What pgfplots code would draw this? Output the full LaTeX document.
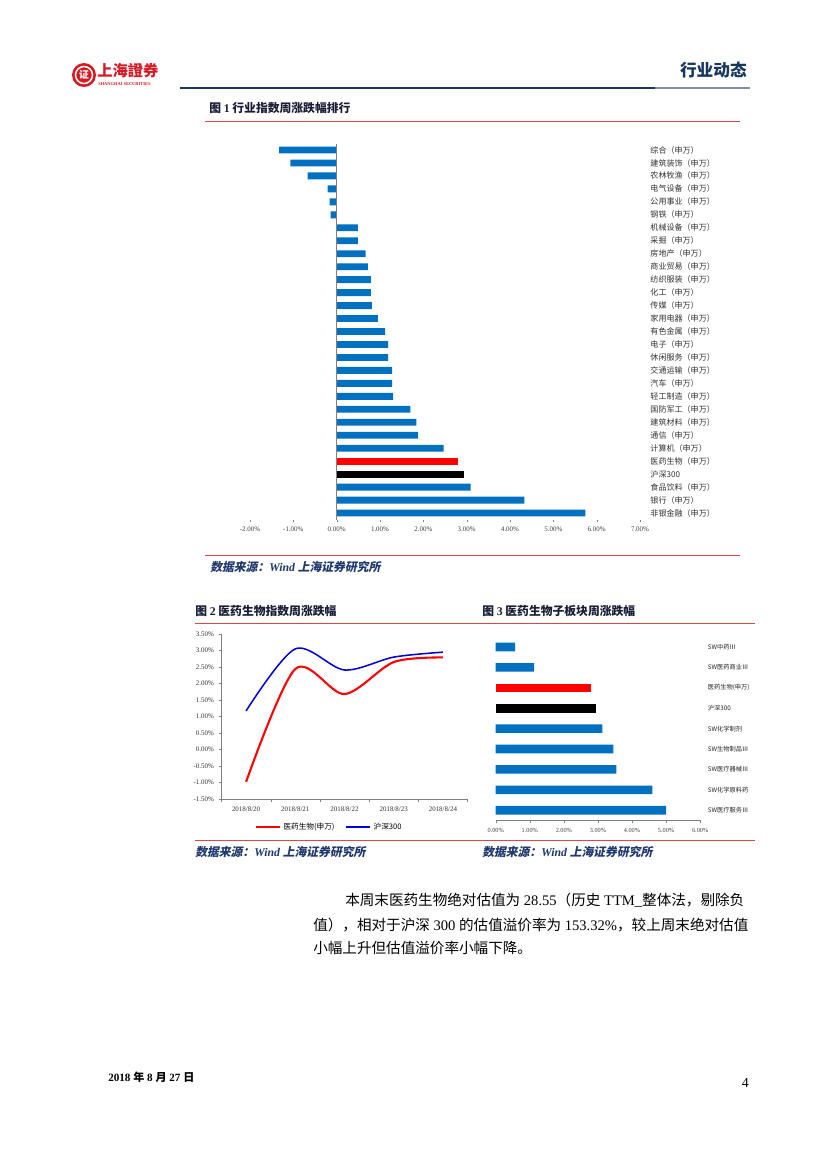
\documentclass[border=0pt]{standalone}
\usepackage{pgfplots}
\usepackage{pgfplotstable}
\pgfplotsset{compat=1.18}
\usepackage{fontspec}
\setmainfont{Liberation Serif}
\newfontfamily\cjk{Noto Sans CJK SC}
\newfontfamily\cjksl{Noto Sans CJK SC}[FakeSlant=0.2]
\definecolor{barblue}{RGB}{0,112,192}
\definecolor{navy}{RGB}{23,55,94}
\definecolor{srcblue}{RGB}{31,56,110}
\definecolor{rulered}{RGB}{225,70,70}
\definecolor{logored}{RGB}{215,25,35}
\definecolor{ttl}{RGB}{25,30,55}
\newcommand{\fs}[1]{\fontsize{#1}{#1}\selectfont}

% figure 1: weekly change by industry, row index from top
\pgfplotstableread{
y v
0 -1.33
1 -1.07
2 -0.67
3 -0.21
4 -0.16
5 -0.14
6 0.49
7 0.49
8 0.67
9 0.72
10 0.79
11 0.79
12 0.81
13 0.95
14 1.12
15 1.19
16 1.19
17 1.28
18 1.28
19 1.30
20 1.70
21 1.84
22 1.88
23 2.47
26 3.09
27 4.33
28 5.74
}\indtab

% figure 3: sub-sectors
\pgfplotstableread{
y v
0 0.57
1 1.13
4 3.13
5 3.45
6 3.54
7 4.60
8 5.00
}\subtab

\begin{document}
\begin{tikzpicture}
\useasboundingbox (0,0) rectangle (595.44pt,-841.68pt);
\fill[white] (0,0) rectangle (595.44pt,-841.68pt);

\begin{scope}[x=0.72pt,y=-0.72pt]
% header
\fill[logored] (84,75) circle (12);
\draw[white, line width=1.1pt] (84,75) circle (8.5);
\node[text=white, inner sep=0] at (84,75) {\cjk\bfseries\fs{7}证};
\node[anchor=west, text=logored, inner sep=0] at (97,71) {\cjk\bfseries\fs{11}上海證券};
\node[anchor=west, text=logored, inner sep=0] at (98,84) {\bfseries\fs{3.2}SHANGHAI SECURITIES};
\node[anchor=east, text=navy, inner sep=0] at (747,70) {\cjk\bfseries\fs{12}行业动态};
\draw[navy, line width=1.9pt] (180,88) -- (655,88);
\draw[navy!55, line width=1.9pt] (655,88) -- (750,88);

% figure 1 frame
\node[anchor=west, text=ttl, inner sep=0] at (209,108) {\cjk\bfseries\fs{8.5}图 {\rmfamily 1} 行业指数周涨跌幅排行};
\draw[rulered, line width=0.5pt] (205,121) -- (740,121);
\draw[rulered, line width=0.5pt] (205,555) -- (740,555);
\node[anchor=west, text=srcblue, inner sep=0] at (210,567) {\cjksl\bfseries\fs{8.5}数据来源：{\rmfamily\itshape Wind} 上海证券研究所};

% figures 2 and 3 frame
\node[anchor=west, text=ttl, inner sep=0] at (195,611) {\cjk\bfseries\fs{8.5}图 {\rmfamily 2} 医药生物指数周涨跌幅};
\node[anchor=west, text=ttl, inner sep=0] at (482,611) {\cjk\bfseries\fs{8.5}图 {\rmfamily 3} 医药生物子板块周涨跌幅};
\draw[rulered, line width=0.5pt] (195,623) -- (755,623);
\draw[rulered, line width=0.5pt] (195,840) -- (755,840);
\node[anchor=west, text=srcblue, inner sep=0] at (195,852) {\cjksl\bfseries\fs{8.5}数据来源：{\rmfamily\itshape Wind} 上海证券研究所};
\node[anchor=west, text=srcblue, inner sep=0] at (482,852) {\cjksl\bfseries\fs{8.5}数据来源：{\rmfamily\itshape Wind} 上海证券研究所};

% body text
\node[anchor=west, inner sep=0] at (345,900) {\fs{10.5}{\cjk 本周末医药生物绝对估值为} 28.55{\cjk （历史} TTM\_{\cjk 整体法，剔除负}};
\node[anchor=west, inner sep=0] at (313,925) {\fs{10.5}{\cjk 值），相对于沪深} 300 {\cjk 的估值溢价率为} 153.32\%{\cjk ，较上周末绝对估值}};
\node[anchor=west, inner sep=0] at (313,948) {\fs{10.5}{\cjk 小幅上升但估值溢价率小幅下降。}};

% footer
\node[anchor=west, inner sep=0] at (108,1077) {\bfseries\fs{8}2018 {\cjk 年} 8 {\cjk 月} 27 {\cjk 日}};
\node[anchor=east, inner sep=0] at (749,1083) {\fs{10}4};
\end{scope}

% ---------- figure 1 ----------
\begin{axis}[
  at={(180pt,-103.32pt)}, anchor=north west,
  width=280.8pt, height=270.72pt, scale only axis,
  xbar, bar width=0.53,
  xmin=-2, xmax=7, ymin=-0.5, ymax=28.5, y dir=reverse,
  axis x line*=bottom, x axis line style={draw=none},
  axis y line*=right, y axis line style={draw=none},
  xtick={-2,...,7},
  xticklabel={\pgfmathprintnumber[fixed,fixed zerofill,precision=2]{\tick}\%},
  /pgf/number format/assume math mode=true,
  x tick label style={font=\fs{5}, text=black!75},
  tick align=outside, major tick length=2pt,
  xtick style={draw=gray},
  ytick={0,...,28}, ytick style={draw=none},
  yticklabels={综合（申万）,建筑装饰（申万）,农林牧渔（申万）,电气设备（申万）,公用事业（申万）,钢铁（申万）,机械设备（申万）,采掘（申万）,房地产（申万）,商业贸易（申万）,纺织服装（申万）,化工（申万）,传媒（申万）,家用电器（申万）,有色金属（申万）,电子（申万）,休闲服务（申万）,交通运输（申万）,汽车（申万）,轻工制造（申万）,国防军工（申万）,建筑材料（申万）,通信（申万）,计算机（申万）,医药生物（申万）,沪深300,食品饮料（申万）,银行（申万）,非银金融（申万）},
  y tick label style={font=\cjk\fs{5.8}, anchor=west, xshift=2pt, text=black!80},
  clip=false,
]
\addplot[draw=none, fill=barblue, bar shift=0pt] table[x=v,y=y] {\indtab};
\addplot[draw=none, fill=red, bar shift=0pt] coordinates {(2.79,24)};
\addplot[draw=none, fill=black, bar shift=0pt] coordinates {(2.95,25)};
\addplot[sharp plot, gray, line width=0.6pt] coordinates {(0,-0.5) (0,28.5)};
\end{axis}

% ---------- figure 2 ----------
\begin{axis}[
  at={(159.48pt,-456.48pt)}, anchor=north west,
  width=177.12pt, height=118.8pt, scale only axis,
  xmin=-0.5, xmax=4.5, ymin=-1.5, ymax=3.5,
  axis x line=bottom, axis y line=left,
  axis line style={-, draw=gray},
  xtick={0,...,4},
  xticklabels={2018/8/20,2018/8/21,2018/8/22,2018/8/23,2018/8/24},
  minor xtick={-0.5,0.5,1.5,2.5,3.5,4.5},
  major x tick style={draw=none},
  minor x tick style={draw=gray},
  ytick={-1.5,-1,-0.5,0,0.5,1,1.5,2,2.5,3,3.5},
  ytick style={draw=gray},
  yticklabel={\pgfmathprintnumber[fixed,fixed zerofill,precision=2]{\tick}\%},
  /pgf/number format/assume math mode=true,
  tick label style={font=\fs{5}, text=black!80},
  tick align=outside, major tick length=2pt, minor tick length=2pt,
  legend style={at={(0.44,-0.11)}, anchor=north, draw=none, fill=none,
    legend columns=2, font=\cjk\fs{5.5},
    /tikz/every even column/.append style={column sep=6pt}},
]
\addplot[red, line width=1.5pt, smooth] coordinates {
  (0,-0.98) (1,2.44) (2,1.68) (3,2.65) (4,2.79)};
\addplot[blue!85!black, line width=1.1pt, smooth] coordinates {
  (0,1.17) (1,3.05) (2,2.41) (3,2.80) (4,2.95)};
\legend{医药生物(申万),沪深300}
\end{axis}

% ---------- figure 3 ----------
\begin{axis}[
  at={(356.9pt,-458.5pt)}, anchor=north west,
  width=147.2pt, height=132.2pt, scale only axis,
  xbar, bar width=0.42,
  xmin=0, xmax=6, ymin=-0.5, ymax=8.5, y dir=reverse,
  axis x line*=bottom, x axis line style={-, draw=gray},
  axis y line*=right, y axis line style={draw=none},
  xtick={0,...,6},
  xticklabel={\pgfmathprintnumber[fixed,fixed zerofill,precision=2]{\tick}\%},
  /pgf/number format/assume math mode=true,
  x tick label style={font=\fs{4.5}, text=black!75},
  tick align=outside, major tick length=2pt,
  xtick style={draw=gray},
  ytick={0,...,8}, ytick style={draw=none},
  yticklabels={SW中药Ⅲ,SW医药商业Ⅲ,医药生物(申万),沪深300,SW化学制剂,SW生物制品Ⅲ,SW医疗器械Ⅲ,SW化学原料药,SW医疗服务Ⅲ},
  y tick label style={font=\cjk\fs{4.5}, anchor=west, xshift=0pt, text=black!85},
]
\addplot[draw=none, fill=barblue, bar shift=0pt] table[x=v,y=y] {\subtab};
\addplot[draw=none, fill=red, bar shift=0pt] coordinates {(2.79,2)};
\addplot[draw=none, fill=black, bar shift=0pt] coordinates {(2.95,3)};
\end{axis}
\end{tikzpicture}
\end{document}
